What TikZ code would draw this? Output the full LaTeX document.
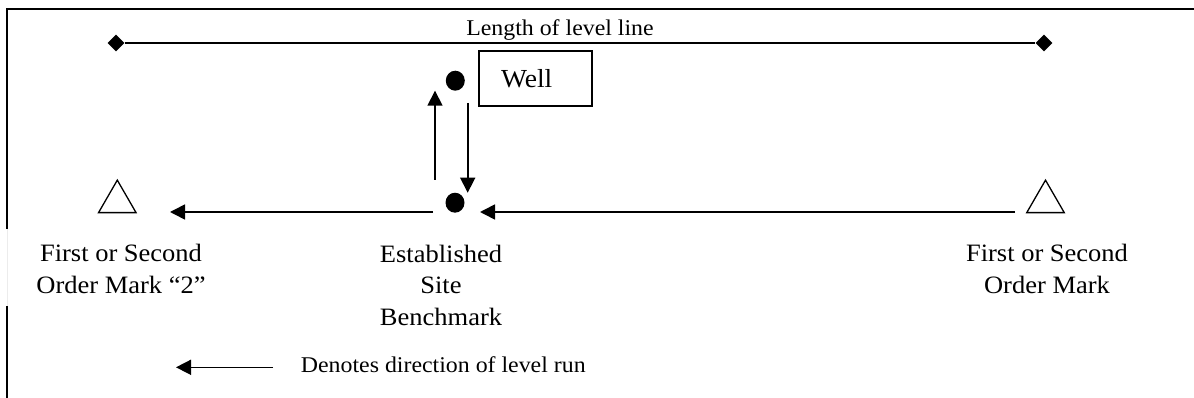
\documentclass[tikz,border=0pt]{standalone}
\usepackage{fontspec}
\setmainfont{Liberation Serif}[FakeStretch=1.06]
\usetikzlibrary{arrows.meta,shapes.geometric}
\begin{document}
\begin{tikzpicture}[x=1pt,y=-1pt,
  frame/.style={line width=1.3pt},
  arr/.style={line width=1.6pt,-{Triangle[length=15pt,width=15pt]}},
  dot/.style={ellipse,fill=black,minimum width=19pt,minimum height=20pt,inner sep=0pt},
  trimark/.style={regular polygon,regular polygon sides=3,draw,line width=1.3pt,minimum size=43.3pt,inner sep=0pt},
  endpt/.style={diamond,fill=black,minimum size=17pt,inner sep=0pt},
  big/.style={font=\fontsize{25}{31.5}\selectfont,align=center,inner sep=0pt},
  small/.style={font=\fontsize{22.5}{27}\selectfont,inner sep=0pt}]
\useasboundingbox (0,0) rectangle (1194,398);
% frame
\draw[frame] (1194,9) -- (7,9) -- (7,229);
\draw[frame] (7,306) -- (7,398);
\draw[gray!15,line width=1pt] (7,229) -- (7,306);
% level line
\node[endpt] (dl) at (116,43) {};
\node[endpt] (dr) at (1044,43) {};
\draw[line width=1.7pt] (dl) -- (dr);
\node[small,anchor=base] (len) at (560,36) {Length of level line};
% well
\node[dot] (wd) at (455.3,80.7) {};
\node[draw,line width=1.3pt,minimum width=113pt,minimum height=55pt,inner xsep=22pt,inner ysep=0pt,text width=69pt,align=left,font=\fontsize{26}{30}\selectfont] (well) at (535.5,78.5) {Well};
% benchmark
\node[dot] (bm) at (455,202.7) {};
% marks
\node[trimark] (m2) at (117.3,201.8) {};
\node[trimark] (m1) at (1045.5,201.8) {};
% connector ends
\coordinate (upS) at (435,180);
\coordinate (upE) at (435,90.7);
\coordinate (dnS) at (467.7,103);
\coordinate (dnE) at (467.7,192.7);
\coordinate (lS) at (433,212);
\coordinate (lE) at (170,212);
\coordinate (rS) at (1015,212);
\coordinate (rE) at (480,212);
\coordinate (gS) at (273,367.3);
\coordinate (gE) at (176,367.3);
\draw[arr] (upS) -- (upE);
\draw[arr] (dnS) -- (dnE);
\draw[arr] (lS) -- (lE);
\draw[arr] (rS) -- (rE);
\draw[arr] (gS) -- (gE);
% labels (anchor base = baseline of last line)
\node[big,anchor=base] (t2) at (121,293) {First or Second\\Order Mark “2”};
\node[big,anchor=base] (tb) at (441,325.3) {Established\\Site\\Benchmark};
\node[big,anchor=base] (t1) at (1047,293) {First or Second\\Order Mark};
\node[small,anchor=base west] (leg) at (300.7,372.7) {Denotes direction of level run};
\end{tikzpicture}
\end{document}
